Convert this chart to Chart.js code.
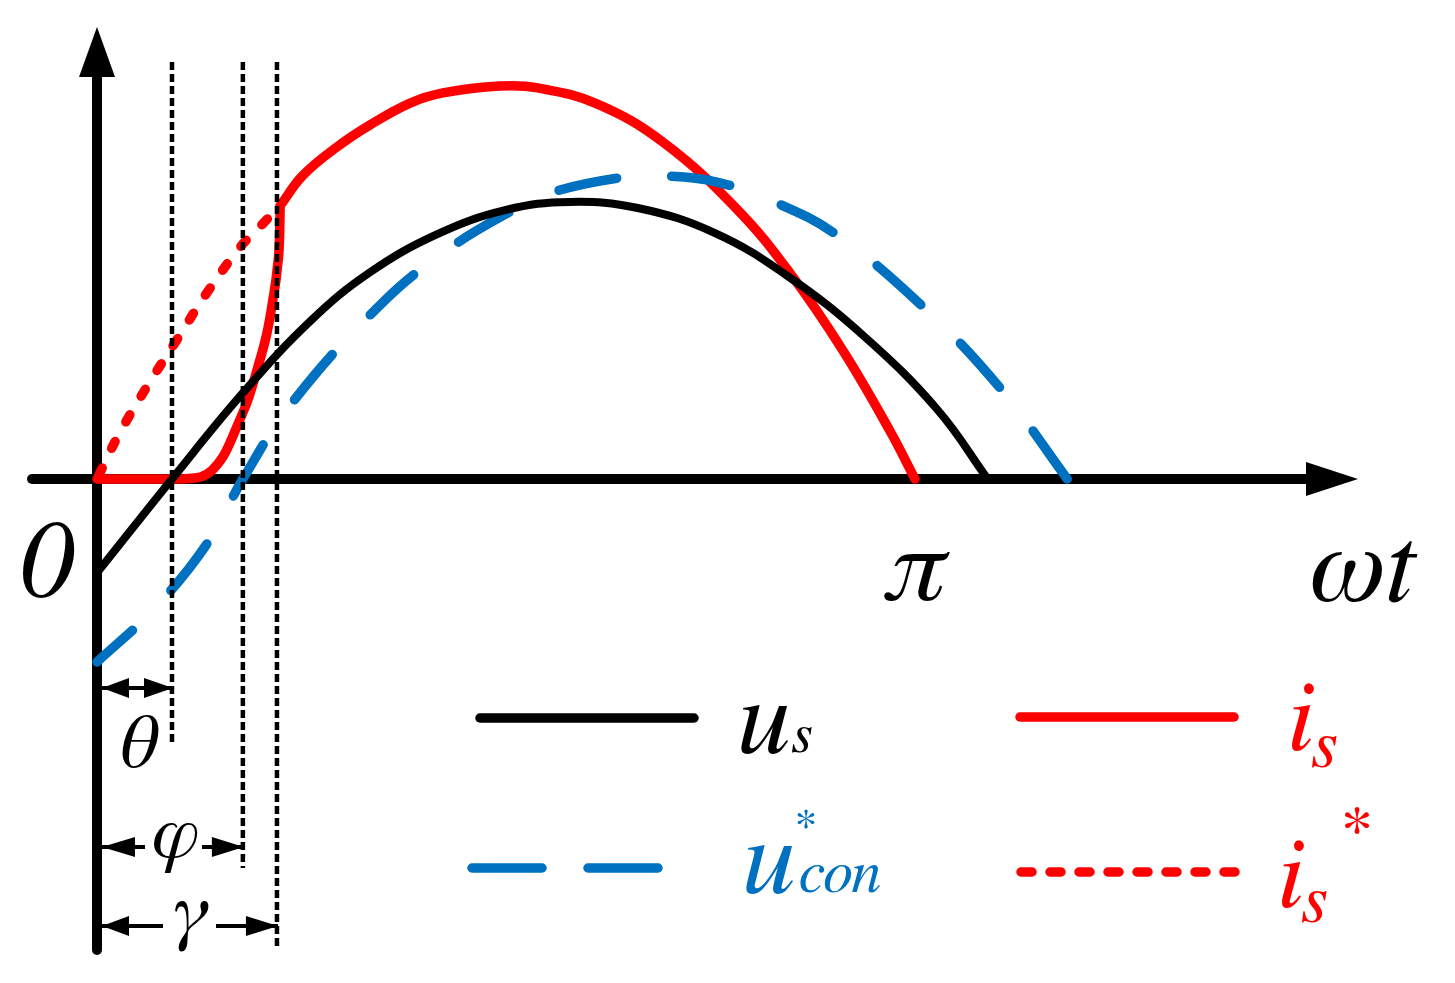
<!DOCTYPE html>
<html>
<head>
<meta charset="utf-8">
<script src="https://cdn.jsdelivr.net/npm/chart.js@4/dist/chart.umd.min.js"></script>
<style>
html,body{margin:0;padding:0;background:#ffffff;overflow:hidden;}
#wrap{width:1455px;height:983px;position:relative;}
canvas{display:block;}
</style>
</head>
<body>
<div id="wrap"><canvas id="c" width="1455" height="983"></canvas></div>
<script>
// ---- Data (x in electrical degrees, pi = 180; y normalised to the u_s amplitude) ----
const usX = [0, 16.5, 32, 47, 60, 75, 90, 104, 119, 136, 152, 169, 185, 196];
const usY = [-0.34, 0, 0.31, 0.573, 0.748, 0.888, 0.975, 1.004, 0.982, 0.891, 0.735, 0.514, 0.25, 0];

const uconX = [0, 12.3, 24.2, 32.1, 43.1, 62.9, 77.7, 90.4, 99.7, 114.4, 124.5, 136.4, 149.6, 162.8, 181.8, 198.7, 213.5];
const uconY = [-0.663, -0.475, -0.235, 0, 0.28, 0.64, 0.837, 0.964, 1.036, 1.09, 1.098, 1.076, 1.0, 0.884, 0.623, 0.33, 0];

const isRiseX = [0, 16.7, 22.7, 27.7, 31.3, 33.2, 35.4, 37.4, 38.7, 39.7, 40.2, 40.3];
const isRiseY = [0, 0, 0.007, 0.08, 0.21, 0.286, 0.406, 0.529, 0.649, 0.768, 0.891, 0.99];

const isArcX = [40.3, 45.3, 52.8, 60.1, 68.9, 76.1, 88.7, 97, 110, 124.5, 140.8, 152.5, 164.2, 174.5, 180];
const isArcY = [0.99, 1.10, 1.203, 1.283, 1.362, 1.399, 1.424, 1.417, 1.359, 1.221, 0.978, 0.746, 0.464, 0.174, 0];

const isRefX = [0, 4.6, 11, 17.6, 24.2, 31.5, 35.9, 40.3];
const isRefY = [0, 0.155, 0.335, 0.505, 0.675, 0.84, 0.915, 0.99];

// angle markers
const markerNames = ['θ', 'φ', 'γ'];
const markerAngles = [16.5, 32.1, 39.6];

// axis labels
const axisLabels = ['0', 'π', 'ωt'];
const piAngle = 180;

const BLACK = '#000000', RED = '#ff0000', BLUE = '#0070c0';
const FONT = 'FreeSerif';

const pts = (xs, ys) => xs.map((x, i) => ({x: x, y: ys[i]}));

function tri(ctx, tipX, tipY, dir, len, half) {
  ctx.beginPath();
  ctx.moveTo(tipX, tipY);
  if (dir === 'right') { ctx.lineTo(tipX - len, tipY - half); ctx.lineTo(tipX - len, tipY + half); }
  else if (dir === 'left') { ctx.lineTo(tipX + len, tipY - half); ctx.lineTo(tipX + len, tipY + half); }
  else if (dir === 'up') { ctx.lineTo(tipX - half, tipY + len); ctx.lineTo(tipX + half, tipY + len); }
  ctx.closePath();
  ctx.fill();
}

const axesPlugin = {
  id: 'axesPlugin',
  beforeDatasetsDraw(chart) {
    const ctx = chart.ctx, xs = chart.scales.x, ys = chart.scales.y;
    const x0 = xs.getPixelForValue(0), y0 = ys.getPixelForValue(0);
    ctx.save();
    ctx.strokeStyle = BLACK; ctx.fillStyle = BLACK;
    ctx.lineWidth = 10; ctx.lineCap = 'round';
    ctx.beginPath(); ctx.moveTo(32, y0); ctx.lineTo(1310, y0); ctx.stroke();
    tri(ctx, 1358, y0, 'right', 52, 17);
    ctx.beginPath(); ctx.moveTo(x0, 950); ctx.lineTo(x0, 70); ctx.stroke();
    tri(ctx, x0, 27, 'up', 50, 18);
    ctx.restore();
  },
  afterDatasetsDraw(chart) {
    const ctx = chart.ctx, xs = chart.scales.x;
    const x0 = xs.getPixelForValue(0);
    const bottoms = [745, 868, 950];
    ctx.save();
    ctx.strokeStyle = BLACK; ctx.lineWidth = 4.5; ctx.setLineDash([8, 4]); ctx.lineCap = 'butt';
    markerAngles.forEach((a, i) => {
      const px = xs.getPixelForValue(a);
      ctx.beginPath(); ctx.moveTo(px, 62); ctx.lineTo(px, bottoms[i]); ctx.stroke();
    });
    ctx.setLineDash([]);
    ctx.fillStyle = BLACK; ctx.lineWidth = 4;
    const left = x0 + 5;
    const dims = [
      {y: 688, gap: null},
      {y: 847, gap: [145, 202]},
      {y: 926, gap: [163, 216]}
    ];
    const textPos = [[138, 767], [176, 857], [190, 935]];
    markerAngles.forEach((a, i) => {
      const right = xs.getPixelForValue(a) + 1;
      const d = dims[i];
      const hl = i === 1 ? 33 : 27;
      ctx.beginPath();
      if (d.gap) {
        ctx.moveTo(left, d.y); ctx.lineTo(d.gap[0], d.y);
        ctx.moveTo(d.gap[1], d.y); ctx.lineTo(right, d.y);
      } else {
        ctx.moveTo(left, d.y); ctx.lineTo(right, d.y);
      }
      ctx.stroke();
      tri(ctx, left, d.y, 'left', hl, 10);
      tri(ctx, right, d.y, 'right', i === 0 ? 29 : 32, 10);
      ctx.font = 'italic 76px ' + FONT;
      ctx.textAlign = 'center'; ctx.textBaseline = 'alphabetic';
      ctx.fillText(markerNames[i], textPos[i][0], textPos[i][1]);
    });
    ctx.textBaseline = 'alphabetic';
    ctx.font = 'italic 110px ' + FONT;
    ctx.textAlign = 'center';
    ctx.fillText(axisLabels[0], 47, 597);
    ctx.font = 'italic 106px ' + FONT;
    ctx.fillText(axisLabels[1], xs.getPixelForValue(piAngle), 600);
    ctx.font = 'italic 110px ' + FONT;
    ctx.textAlign = 'left';
    ctx.fillText(axisLabels[2], 1310, 601);

    const legendItems = [
      {color: BLACK, dash: [], x1: 480, x2: 694, y: 718},
      {color: RED, dash: [], x1: 1020, x2: 1234, y: 717},
      {color: BLUE, dash: [70, 46], x1: 472, x2: 660, y: 868},
      {color: RED, dash: [11, 18], x1: 1021, x2: 1236, y: 872}
    ];
    ctx.lineCap = 'round'; ctx.lineWidth = 9.5;
    legendItems.forEach(it => {
      ctx.strokeStyle = it.color; ctx.setLineDash(it.dash);
      ctx.beginPath(); ctx.moveTo(it.x1, it.y); ctx.lineTo(it.x2, it.y); ctx.stroke();
    });
    ctx.setLineDash([]);
    ctx.textAlign = 'left'; ctx.textBaseline = 'alphabetic';
    ctx.fillStyle = BLACK;
    ctx.font = 'italic 108px ' + FONT; ctx.fillText('u', 738, 752);
    ctx.font = 'italic 56px ' + FONT; ctx.fillText('s', 792, 752);
    ctx.fillStyle = BLUE;
    ctx.font = 'italic 108px ' + FONT; ctx.fillText('u', 743, 892);
    ctx.font = 'italic 60px ' + FONT; ctx.fillText('con', 799, 892);
    ctx.font = '46px ' + FONT; ctx.textAlign = 'center'; ctx.fillText('*', 806, 840);
    ctx.fillStyle = RED; ctx.textAlign = 'left';
    ctx.font = 'italic 102px ' + FONT; ctx.fillText('i', 1288, 750);
    ctx.font = 'italic 70px ' + FONT; ctx.fillText('s', 1312, 767);
    ctx.font = 'italic 102px ' + FONT; ctx.fillText('i', 1278, 907);
    ctx.font = 'italic 70px ' + FONT; ctx.fillText('s', 1302, 922);
    ctx.font = '66px ' + FONT; ctx.textAlign = 'center'; ctx.fillText('*', 1357, 852);
    ctx.restore();
  }
};

const common = {pointRadius: 0, borderCapStyle: 'round', borderJoinStyle: 'round', fill: false, clip: false};
const smooth = {tension: 0.4, cubicInterpolationMode: 'default'};
const mono = {cubicInterpolationMode: 'monotone'};

new Chart(document.getElementById('c'), {
  type: 'line',
  data: {
    datasets: [
      Object.assign({label: 'u_s', data: pts(usX, usY), borderColor: BLACK, borderWidth: 8}, common, smooth),
      Object.assign({label: 'u*_con', data: pts(uconX, uconY).reverse(), borderColor: BLUE, borderWidth: 9.5, borderDash: [59, 55]}, common, smooth),
      Object.assign({label: 'i*_s', data: pts(isRefX, isRefY), borderColor: RED, borderWidth: 9.5, borderDash: [8, 22], borderDashOffset: -4}, common, smooth),
      Object.assign({label: 'i_s', data: pts(isRiseX, isRiseY), borderColor: RED, borderWidth: 9.5}, common, mono),
      Object.assign({label: 'i_s ', data: pts(isArcX, isArcY), borderColor: RED, borderWidth: 9.5}, common, smooth)
    ]
  },
  options: {
    responsive: false,
    animation: false,
    devicePixelRatio: 1,
    layout: {padding: 0},
    plugins: {legend: {display: false}, tooltip: {enabled: false}},
    events: [],
    scales: {
      x: {type: 'linear', min: -21.345, max: 298.83, display: false},
      y: {type: 'linear', min: -1.8261, max: 1.7355, display: false}
    }
  },
  plugins: [axesPlugin]
});
</script>
</body>
</html>
